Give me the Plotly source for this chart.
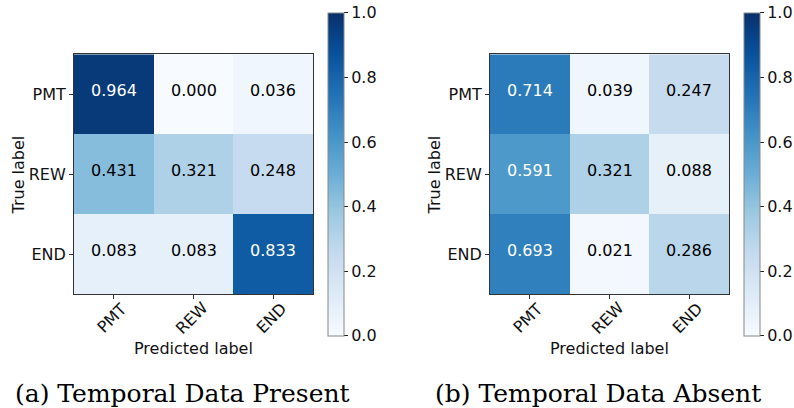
import plotly.graph_objects as go

labels = ["PMT", "REW", "END"]
cm_present = [[0.964, 0.000, 0.036],
              [0.431, 0.321, 0.248],
              [0.083, 0.083, 0.833]]
cm_absent = [[0.714, 0.039, 0.247],
             [0.591, 0.321, 0.088],
             [0.693, 0.021, 0.286]]
captions = ["(a) Temporal Data Present", "(b) Temporal Data Absent"]
x_title = "Predicted label"
y_title = "True label"
cbar_ticks = [0.0, 0.2, 0.4, 0.6, 0.8, 1.0]

W, H = 794, 408
blues = [[0.0, "rgb(247,251,255)"], [0.125, "rgb(222,235,247)"], [0.25, "rgb(198,219,239)"],
         [0.375, "rgb(158,202,225)"], [0.5, "rgb(107,174,214)"], [0.625, "rgb(66,146,198)"],
         [0.75, "rgb(33,113,181)"], [0.875, "rgb(8,81,156)"], [1.0, "rgb(8,48,107)"]]

FONT = "DejaVu Sans"
fig = go.Figure()

panels = [
    dict(cm=cm_present, x0=74, x1=313.3, cbx=328, cap_x=182.5, xa="x", ya="y"),
    dict(cm=cm_absent, x0=490, x1=729.3, cbx=743.7, cap_x=598, xa="x2", ya="y2"),
]
ytop, ybot = 54.3, 294.0
cb_top, cb_bot = 12.7, 336.0

for i, p in enumerate(panels):
    cm = p["cm"]
    fig.add_trace(go.Heatmap(
        z=cm, x=labels, y=labels, xaxis=p["xa"], yaxis=p["ya"],
        colorscale=blues, zmin=0, zmax=1, hoverinfo="skip",
        colorbar=dict(
            x=p["cbx"] / W, xanchor="left", xpad=0, ypad=0,
            y=1 - (cb_top + cb_bot) / 2 / H, yanchor="middle",
            len=cb_bot - cb_top, lenmode="pixels", thickness=16,
            outlinewidth=1, outlinecolor="#888888",
            tickvals=cbar_ticks, ticktext=[f"{v:.1f}" for v in cbar_ticks],
            ticks="outside", ticklen=4, tickcolor="#222",
            tickfont=dict(family=FONT, size=16, color="#111"),
        ),
    ))
    thresh = max(max(r) for r in cm) / 2
    for r, row in enumerate(cm):
        for c, v in enumerate(row):
            fig.add_annotation(
                x=labels[c], y=labels[r], xref=p["xa"], yref=p["ya"],
                text=f"{v:.3f}", showarrow=False,
                font=dict(family=FONT, size=16, color="white" if v > thresh else "black"),
                yshift=4,
            )
    suffix = "" if i == 0 else "2"
    axis_common = dict(showline=True, mirror=True, linecolor="#333", linewidth=1,
                       ticks="outside", ticklen=4, tickcolor="#333",
                       tickfont=dict(family=FONT, size=16, color="#111"),
                       showgrid=False, zeroline=False, fixedrange=True, automargin=False)
    fig.update_layout(**{
        "xaxis" + suffix: dict(domain=[p["x0"] / W, p["x1"] / W], anchor="y" + suffix,
                               showticklabels=False, **axis_common),
        "yaxis" + suffix: dict(domain=[1 - ybot / H, 1 - ytop / H], anchor="x" + suffix,
                               autorange="reversed", **axis_common),
    })
    # rotated x tick labels (centered below each tick, as in matplotlib rotation=45)
    for lab in labels:
        fig.add_annotation(x=lab, y=1 - 318 / H, xref=p["xa"], yref="paper",
                           text=lab, showarrow=False, xanchor="center", yanchor="middle",
                           textangle=-45, xshift=-2.5,
                           font=dict(family=FONT, size=16, color="#111"))
    # axis titles
    fig.add_annotation(x=(p["x0"] + p["x1"]) / 2 / W, y=1 - 348.5 / H, xref="paper", yref="paper",
                       text=x_title, showarrow=False, xanchor="center", yanchor="middle",
                       font=dict(family=FONT, size=16, color="#111"))
    fig.add_annotation(x=(p["x0"] - 56.5) / W, y=1 - 175 / H, xref="paper", yref="paper",
                       text=y_title, showarrow=False, xanchor="center", yanchor="middle",
                       textangle=-90, font=dict(family=FONT, size=16, color="#111"))
    # caption
    fig.add_annotation(x=p["cap_x"] / W, y=1 - 409.5 / H, xref="paper", yref="paper",
                       text=captions[i], showarrow=False, xanchor="center", yanchor="bottom",
                       font=dict(family="DejaVu Serif", size=25, color="black"))

fig.update_layout(width=W, height=H, margin=dict(l=0, r=0, t=0, b=0, autoexpand=False),
                  paper_bgcolor="white", plot_bgcolor="white", showlegend=False)
fig.write_html("out.html", config={"displayModeBar": False},
               post_script="document.body.style.margin='0';")
